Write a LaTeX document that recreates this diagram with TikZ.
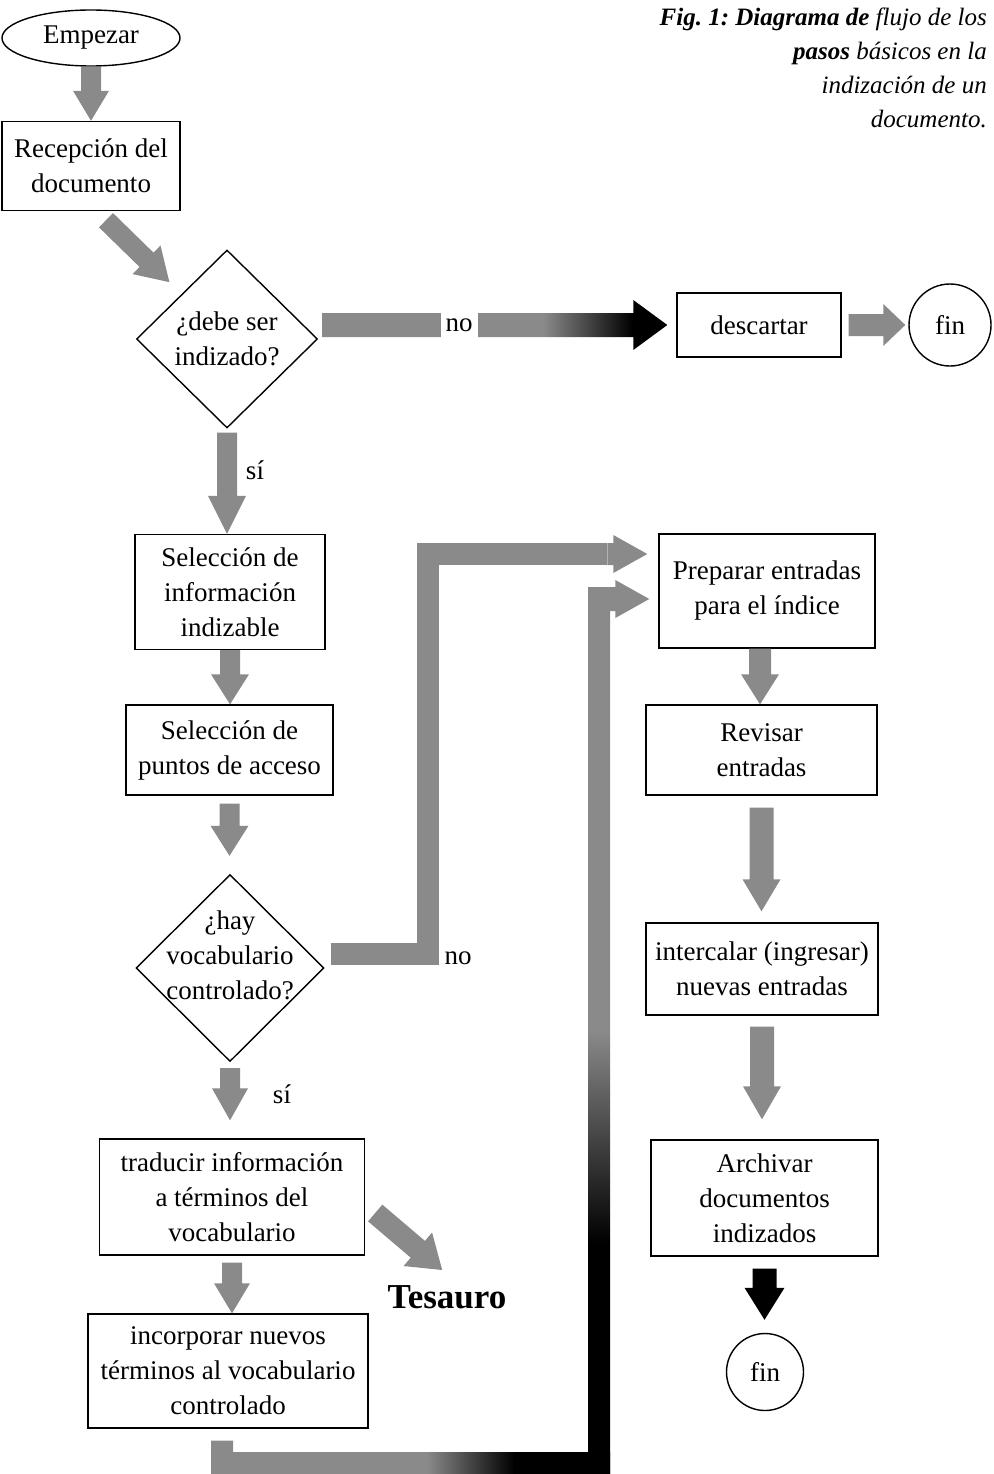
\documentclass[tikz,border=0pt]{standalone}
\usepackage{fontspec}
\setmainfont{Liberation Serif}
\usetikzlibrary{arrows.meta,shapes.geometric,calc}
\definecolor{arrowgray}{RGB}{138,138,138}
\pgfdeclarehorizontalshading{noshade}{100bp}{color(0bp)=(arrowgray); color(57bp)=(arrowgray); color(70bp)=(black); color(100bp)=(black)}
\pgfdeclarehorizontalshading{botshade}{100bp}{color(0bp)=(arrowgray); color(52bp)=(arrowgray); color(63bp)=(black); color(100bp)=(black)}
\pgfdeclareverticalshading{vertshade}{100bp}{color(0bp)=(black); color(38bp)=(black); color(50bp)=(arrowgray); color(100bp)=(arrowgray)}
% #1 path options, #2 start, #3 tip, #4 shaft half width, #5 head half width, #6 head length
\newcommand\blockarrow[6]{%
  \coordinate (bah) at ($(#3)!#6!(#2)$);
  \path[#1] ($(#2)!#4!90:(#3)$) -- ($(bah)!#4!90:(#3)$) -- ($(bah)!#5!90:(#3)$) -- (#3)
    -- ($(bah)!#5!-90:(#3)$) -- ($(bah)!#4!-90:(#3)$) -- ($(#2)!#4!-90:(#3)$) -- cycle;
}
\begin{document}
\frenchspacing
\begin{tikzpicture}[x=1pt,y=-1pt,
  bx/.style={draw, line width=1.4pt, rectangle, inner sep=0pt, align=center, font=\fontsize{27}{35}\selectfont},
  dia/.style={draw, line width=1.4pt, diamond, aspect=1, inner sep=0pt},
  ci/.style={draw, line width=1.4pt, circle, inner sep=0pt, font=\fontsize{27}{35}\selectfont},
  lbl/.style={align=center, inner sep=0pt, font=\fontsize{27}{35}\selectfont},
  gapl/.style={fill=white, inner xsep=5pt, minimum height=30pt, font=\fontsize{27}{35}\selectfont},
  garr/.style={fill=arrowgray},
  karr/.style={fill=black}]
\useasboundingbox (0,0) rectangle (993,1474);

% caption
\node[anchor=north east, align=right, inner sep=0pt, font=\fontsize{25}{34}\selectfont\itshape] (cap) at (987,8)
  {\textbf{Fig. 1: Diagrama de} flujo de los\\ \textbf{pasos} básicos en la\\ indización de un\\ documento.};

% nodes
\node[bx, ellipse, minimum width=178pt, minimum height=56pt] (start) at (91,38) {Empezar};
\node[bx, minimum width=178pt, minimum height=89pt] (rec) at (91,166) {Recepción del\\documento};
\node[dia, minimum width=181pt, minimum height=178pt] (d1) at (227,339) {};
\node[lbl] (d1t) at (d1) {¿debe ser\\indizado?};
\node[bx, minimum width=164pt, minimum height=64pt] (desc) at (759,325) {descartar};
\node[ci, minimum size=82pt] (fin1) at (950,325) {fin};
\node[bx, minimum width=190pt, minimum height=115pt] (sel1) at (230,592) {Selección de\\información\\indizable};
\node[bx, minimum width=207pt, minimum height=90pt] (sel2) at (229.5,750) {Selección de\\puntos de acceso};
\node[dia, minimum width=188pt, minimum height=187pt] (d2) at (230,968) {};
\node[lbl] (d2t) at (230,955) {¿hay\\vocabulario\\controlado?};
\node[bx, minimum width=265pt, minimum height=116pt] (trad) at (232,1197) {traducir información\\a términos del\\vocabulario};
\node[bx, minimum width=280pt, minimum height=114pt] (inc) at (228,1371) {incorporar nuevos\\términos al vocabulario\\controlado};
\node[inner sep=0pt, font=\fontsize{35}{40}\selectfont\bfseries] (tes) at (447,1297) {Tesauro};
\node[bx, minimum width=216pt, minimum height=114pt] (prep) at (767,591) {Preparar entradas\\para el índice};
\node[bx, minimum width=231pt, minimum height=90pt] (rev) at (761.5,750) {Revisar\\entradas};
\node[bx, minimum width=232pt, minimum height=92pt] (inter) at (762,969) {intercalar (ingresar)\\nuevas entradas};
\node[bx, minimum width=227pt, minimum height=116pt] (arch) at (764.5,1198) {Archivar\\documentos\\indizados};
\node[ci, minimum size=77pt] (fin2) at (765,1372) {fin};

% Empezar -> Recepcion
\coordinate (a1s) at (start.south);
\coordinate (a1t) at (a1s |- rec.north);
\blockarrow{garr}{a1s}{a1t}{10pt}{18pt}{30pt}
% Recepcion -> d1 (diagonal)
\coordinate (a2s) at ($(rec.south)+(15,9)$);
\coordinate (a2t) at ($(d1.north west)+(-12,-12)$);
\blockarrow{garr}{a2s}{a2t}{10pt}{20pt}{32pt}
% d1 -> descartar (no)
\coordinate (tmp) at ($(d1.east)+(4,0)$);
\coordinate (a3s) at (tmp |- desc.west);
\coordinate (a3t) at ([xshift=-9pt]desc.west);
\blockarrow{shade, shading=noshade}{a3s}{a3t}{12pt}{25pt}{34pt}
\node[gapl] (no1) at (459,325) {no};
% descartar -> fin
\coordinate (a4s) at ([xshift=7pt]desc.east);
\coordinate (a4t) at ([xshift=-3pt]fin1.west);
\blockarrow{garr}{a4s}{a4t}{11pt}{21pt}{22pt}
% d1 -> sel1 (si)
\coordinate (a5s) at ([yshift=-4pt]d1.south);
\coordinate (a5t) at (a5s |- sel1.north);
\blockarrow{garr}{a5s}{a5t}{10pt}{19pt}{38pt}
\node[lbl] (si1) at (255,470) {sí};
% sel1 -> sel2
\coordinate (a6s) at (sel1.south);
\coordinate (a6t) at (a6s |- sel2.north);
\blockarrow{garr}{a6s}{a6t}{10pt}{19pt}{30pt}
% sel2 -> d2
\coordinate (a7s) at ([yshift=-8pt]sel2.south);
\coordinate (tmp) at ([yshift=18pt]d2.north);
\coordinate (a7t) at (a7s |- tmp);
\blockarrow{garr}{a7s}{a7t}{10pt}{19pt}{30pt}
% d2 -> preparar (no)
\coordinate (n2s) at ($(d2.east)+(6,-14)$);
\coordinate (n2c) at ($(n2s)+(97,0)$);
\coordinate (n2t) at ([xshift=-11pt,yshift=37pt]prep.west);
\coordinate (n2h) at ($(n2t)+(-40,0)$);
\draw[line width=22pt, arrowgray, line join=miter] (n2s) -- (n2c) -- (n2c |- n2t) -- (n2h);
\blockarrow{garr}{n2h}{n2t}{11pt}{19pt}{34pt}
\node[lbl] (no2) at (458,958) {no};
% d2 -> traducir (si)
\coordinate (a9s) at ([yshift=-6pt]d2.south);
\coordinate (tmp) at ([yshift=18pt]trad.north);
\coordinate (a9t) at (a9s |- tmp);
\blockarrow{garr}{a9s}{a9t}{10pt}{18pt}{32pt}
\node[lbl] (si2) at (282,1094) {sí};
% traducir -> incorporar
\coordinate (a10s) at ([yshift=-7pt]trad.south);
\coordinate (a10t) at (a10s |- inc.north);
\blockarrow{garr}{a10s}{a10t}{10pt}{18pt}{30pt}
% traducir -> Tesauro
\coordinate (a11s) at ($(trad.east)+(10,16)$);
\coordinate (a11t) at ($(trad.east)+(77,73)$);
\blockarrow{garr}{a11s}{a11t}{11pt}{22pt}{32pt}
% incorporar -> preparar (loop)
\coordinate (lpA) at ($(inc.south)+(-6,12)$);
\coordinate (lpB) at (222,1463);
\coordinate (lpC) at (599,1463);
\coordinate (lpT) at ([xshift=-9pt,yshift=-8pt]prep.west);
\coordinate (lpD) at (lpC |- lpT);
\path[shade, shading=vertshade] ($(lpD)+(-11,-12)$) rectangle ($(lpC)+(11,11)$);
\path[shade, shading=botshade] ($(lpA)+(-11,0)$) -- ($(lpA)+(11,0)$) -- ($(lpB)+(11,-11)$) -- ($(lpC)+(11,-11)$)
   -- ($(lpC)+(11,11)$) -- ($(lpB)+(-11,11)$) -- cycle;
\blockarrow{garr}{lpD}{lpT}{12pt}{19pt}{34pt}
% right column
\coordinate (a13s) at ([xshift=-7pt]prep.south);
\coordinate (a13t) at (a13s |- rev.north);
\blockarrow{garr}{a13s}{a13t}{11pt}{19pt}{30pt}
\coordinate (a14s) at ([yshift=-12pt]rev.south);
\coordinate (tmp) at ([yshift=11pt]inter.north);
\coordinate (a14t) at (a14s |- tmp);
\blockarrow{garr}{a14s}{a14t}{12pt}{19pt}{32pt}
\coordinate (a15s) at ([yshift=-11pt]inter.south);
\coordinate (tmp) at ([yshift=20pt]arch.north);
\coordinate (a15t) at (a15s |- tmp);
\blockarrow{garr}{a15s}{a15t}{12pt}{19pt}{33pt}
\coordinate (a16s) at ([yshift=-12pt]arch.south);
\coordinate (tmp) at ([yshift=13pt]fin2.north);
\coordinate (a16t) at (a16s |- tmp);
\blockarrow{karr}{a16s}{a16t}{12pt}{20pt}{32pt}
\end{tikzpicture}
\end{document}
